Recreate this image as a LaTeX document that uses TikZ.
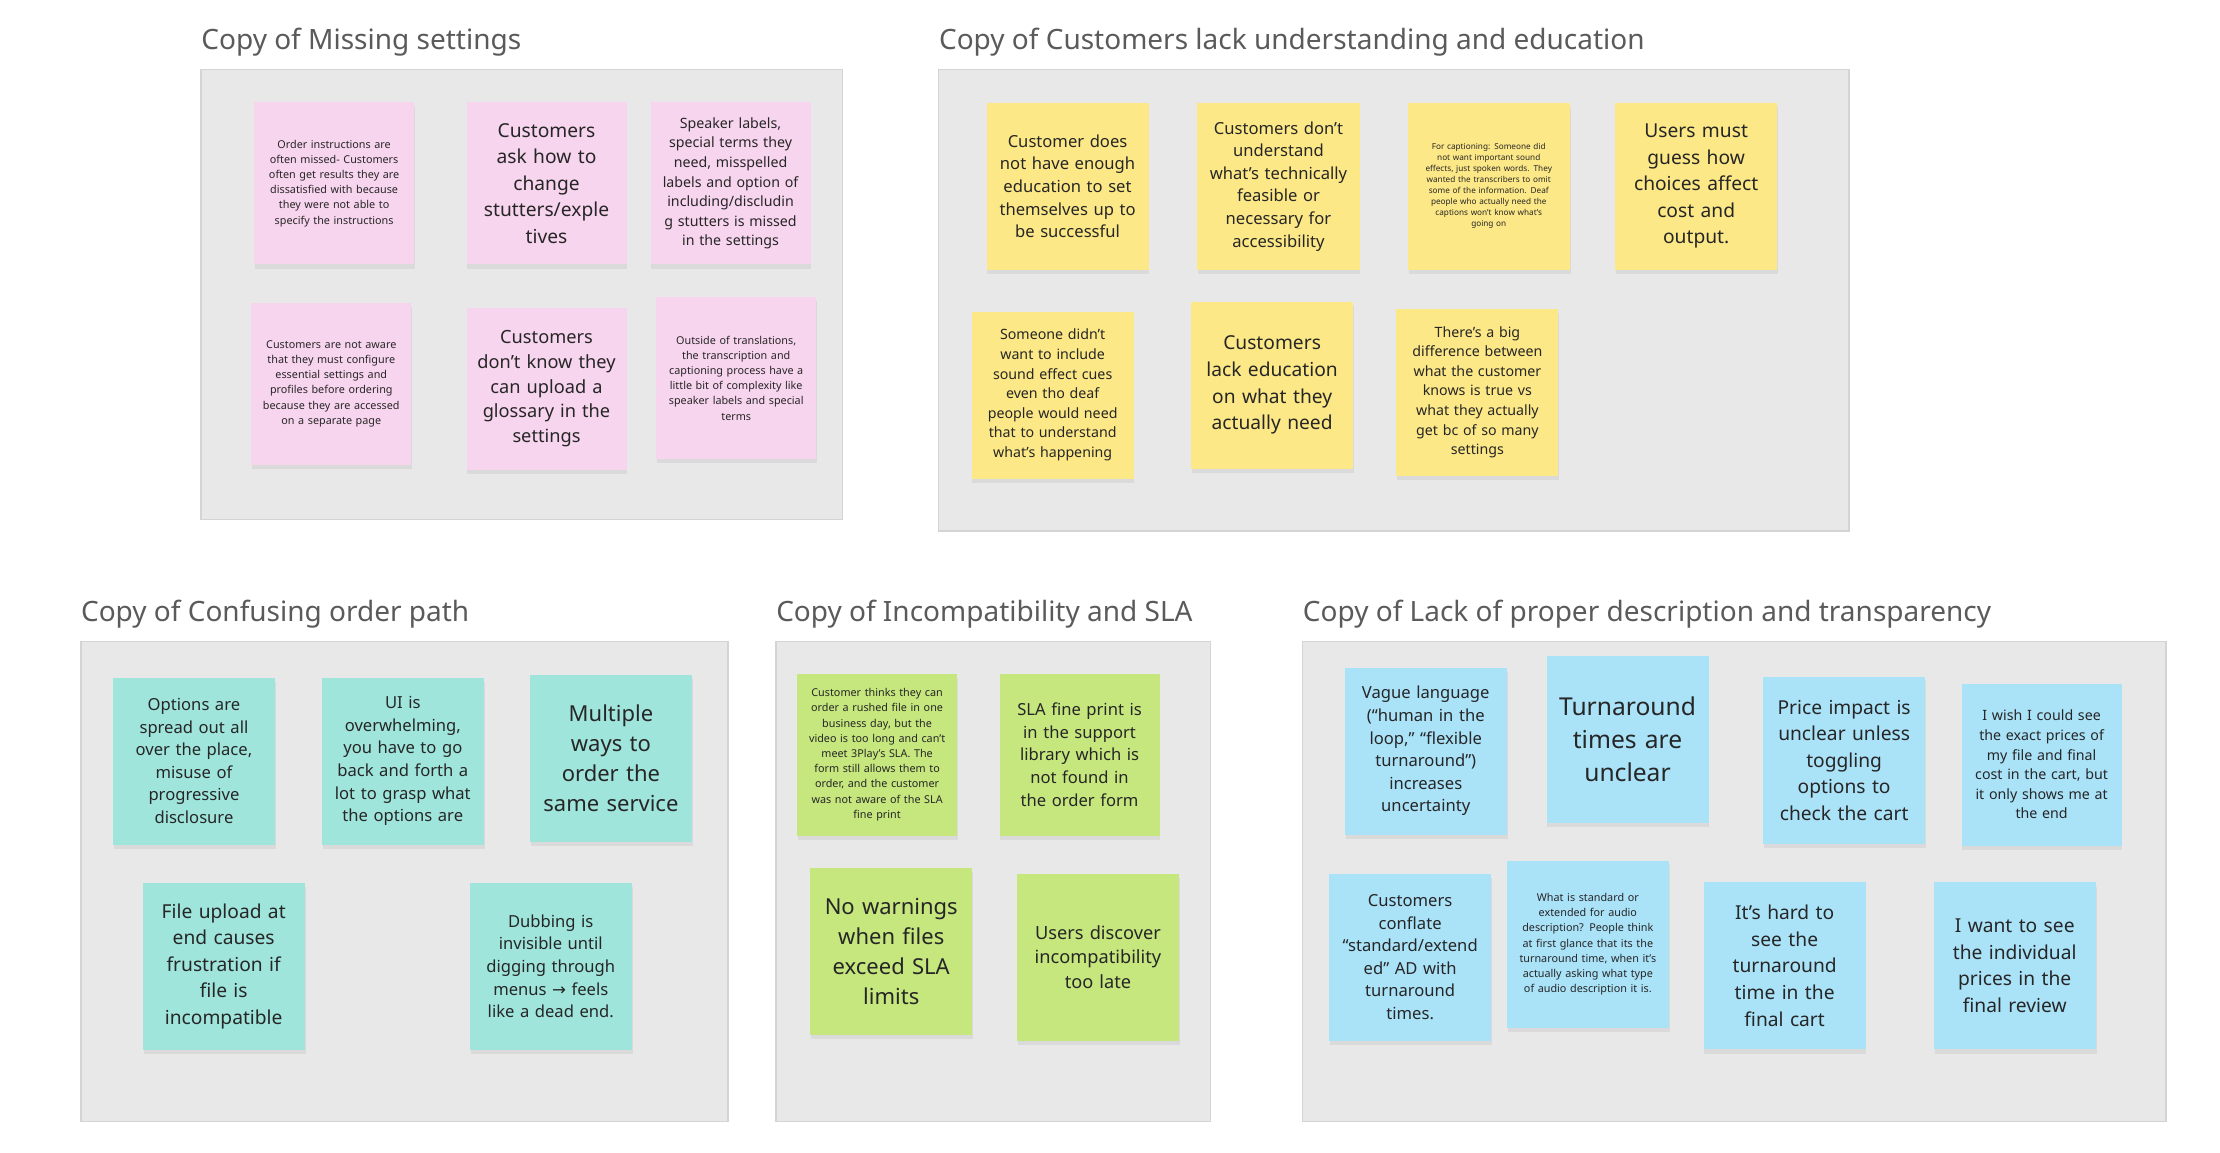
\documentclass[tikz,border=0pt]{standalone}
\usepackage{fontspec}
\setmainfont{Noto Sans}
\newfontfamily\arrowfont{DejaVu Sans}
\usetikzlibrary{shadows}
\definecolor{pinknote}{HTML}{F8D5EE}
\definecolor{yellownote}{HTML}{FCE886}
\definecolor{limenote}{HTML}{C6E67E}
\definecolor{tealnote}{HTML}{9FE5DB}
\definecolor{bluenote}{HTML}{AAE2F8}
\definecolor{panelfill}{HTML}{E8E8E8}
\definecolor{panelline}{HTML}{D4D4D4}
\definecolor{titlegray}{HTML}{5A5A5A}
\definecolor{notetext}{HTML}{262626}

\newcommand\tinytext{\fontsize{4.1}{5.5}\selectfont}
\newcommand\smalltext{\fontsize{5.4}{7.6}\selectfont}
\newcommand\midsmalltext{\fontsize{7.1}{9.8}\selectfont}
\newcommand\midtext{\fontsize{8.3}{11.3}\selectfont}
\newcommand\bigtext{\fontsize{9.6}{13.3}\selectfont}
\newcommand\hugetext{\fontsize{11}{14.9}\selectfont}
\newcommand\gianttext{\fontsize{12.3}{16.4}\selectfont}

\tikzset{
  panel/.style={draw=panelline, fill=panelfill, line width=0.8pt},
  paneltitle/.style={anchor=west, inner sep=0pt, text=titlegray,
    font=\fontsize{14}{16}\selectfont},
  note/.style={fill=#1, text=notetext, align=center, inner sep=0pt,
    text width=80pt, minimum width=81pt, minimum height=83.5pt,
    drop shadow={shadow xshift=0.4pt, shadow yshift=-2.2pt, opacity=0.13}},
  pinksize/.style={minimum width=78.6pt, minimum height=81pt},
}

\begin{document}
\begin{tikzpicture}[x=0.7079pt, y=-0.7079pt]
  \useasboundingbox (0,0) rectangle (1568,813.7);

  % panels and their titles
  \path[panel] (142,49) rectangle (595,367);
  \path[panel] (663,49) rectangle (1306,375);
  \path[panel] (57,453) rectangle (514,792);
  \path[panel] (548,453) rectangle (855,792);
  \path[panel] (920,453) rectangle (1530,792);

  \path
  (142,30) node[paneltitle] (tsettings) {Copy of Missing settings}
  (663,30) node[paneltitle] (teducation) {Copy of Customers lack understanding and education}
  (57,434) node[paneltitle] (tpath) {Copy of Confusing order path}
  (548,434) node[paneltitle] (tsla) {Copy of Incompatibility and SLA}
  (920,434) node[paneltitle] (tclarity) {Copy of Lack of proper description and transparency}
  ;

  % missing settings
  \path
  (236,129.5) node[note=pinknote, pinksize, font=\smalltext] (settings1)
    {Order instructions are\\often missed- Customers\\often get results they are\\dissatisfied with because\\they were not able to\\specify the instructions}
  (386,129.5) node[note=pinknote, pinksize, font=\bigtext] (settings2)
    {Customers\\ask how to\\change\\stutters/exple\\tives}
  (516,129.5) node[note=pinknote, pinksize, font=\midsmalltext] (settings3)
    {Speaker labels,\\special terms they\\need, misspelled\\labels and option of\\including/discludin\\g stutters is missed\\in the settings}
  (234,271) node[note=pinknote, pinksize, font=\smalltext] (settings4)
    {Customers are not aware\\that they must configure\\essential settings and\\profiles before ordering\\because they are accessed\\on a separate page}
  (386,274.5) node[note=pinknote, pinksize, font=\fontsize{9.1}{12.3}\selectfont] (settings5)
    {Customers\\don't know they\\can upload a\\glossary in the\\settings}
  (520,267) node[note=pinknote, pinksize, font=\smalltext] (settings6)
    {Outside of translations,\\the transcription and\\captioning process have a\\little bit of complexity like\\speaker labels and special\\terms}
  ;

  % customers lack understanding
  \path
  (754,131.5) node[note=yellownote, font=\midtext] (edu1)
    {Customer does\\not have enough\\education to set\\themselves up to\\be successful}
  (903,131.5) node[note=yellownote, font=\midtext] (edu2)
    {Customers don't\\understand\\what's technically\\feasible or\\necessary for\\accessibility}
  (1051.5,131.5) node[note=yellownote, font=\tinytext] (edu3)
    {For captioning: Someone did\\not want important sound\\effects, just spoken words. They\\wanted the transcribers to omit\\some of the information. Deaf\\people who actually need the\\captions won't know what's\\going on}
  (1198,131.5) node[note=yellownote, font=\bigtext] (edu4)
    {Users must\\guess how\\choices affect\\cost and\\output.}
  (743.5,279) node[note=yellownote, font=\midsmalltext] (edu5)
    {Someone didn't\\want to include\\sound effect cues\\even tho deaf\\people would need\\that to understand\\what's happening}
  (898.5,272) node[note=yellownote, font=\bigtext] (edu6)
    {Customers\\lack education\\on what they\\actually need}
  (1043.5,277) node[note=yellownote, font=\midsmalltext] (edu7)
    {There's a big\\difference between\\what the customer\\knows is true vs\\what they actually\\get bc of so many\\settings}
  ;

  % confusing order path
  \path
  (137,537.5) node[note=tealnote, font=\midtext] (path1)
    {Options are\\spread out all\\over the place,\\misuse of\\progressive\\disclosure}
  (284.5,537.5) node[note=tealnote, font=\midtext] (path2)
    {UI is\\overwhelming,\\you have to go\\back and forth a\\lot to grasp what\\the options are}
  (431.5,535.5) node[note=tealnote, font=\hugetext] (path3)
    {Multiple\\ways to\\order the\\same service}
  (158,682.5) node[note=tealnote, font=\bigtext] (path4)
    {File upload at\\end causes\\frustration if\\file is\\incompatible}
  (389,682.5) node[note=tealnote, font=\midtext] (path5)
    {Dubbing is\\invisible until\\digging through\\menus {\arrowfont →} feels\\like a dead end.}
  ;

  % incompatibility and sla
  \path
  (619.5,533) node[note=limenote, pinksize, font=\smalltext] (sla1)
    {Customer thinks they can\\order a rushed file in one\\business day, but the\\video is too long and can't\\meet 3Play's SLA. The\\form still allows them to\\order, and the customer\\was not aware of the SLA\\fine print}
  (762.5,533) node[note=limenote, pinksize, font=\midtext] (sla2)
    {SLA fine print is\\in the support\\library which is\\not found in\\the order form}
  (629.5,672) node[note=limenote, font=\hugetext] (sla3)
    {No warnings\\when files\\exceed SLA\\limits}
  (775.5,676) node[note=limenote, font=\fontsize{9.1}{12.4}\selectfont] (sla4)
    {Users discover\\incompatibility\\too late}
  ;

  % lack of proper description
  \path
  (1007,530.5) node[note=bluenote, font=\midtext] (desc1)
    {Vague language\\(“human in the\\loop,” “flexible\\turnaround”)\\increases\\uncertainty}
  (1149.5,522) node[note=bluenote, font=\gianttext] (desc2)
    {Turnaround\\times are\\unclear}
  (1302.5,537) node[note=bluenote, font=\bigtext] (desc3)
    {Price impact is\\unclear unless\\toggling\\options to\\check the cart}
  (1442,540) node[note=bluenote, pinksize, font=\midsmalltext] (desc4)
    {I wish I could see\\the exact prices of\\my file and final\\cost in the cart, but\\it only shows me at\\the end}
  (996,676) node[note=bluenote, font=\midtext] (desc5)
    {Customers\\conflate\\“standard/extend\\ed” AD with\\turnaround\\times.}
  (1121.5,667) node[note=bluenote, font=\smalltext] (desc6)
    {What is standard or\\extended for audio\\description? People think\\at first glance that its the\\turnaround time, when it's\\actually asking what type\\of audio description it is.}
  (1260.5,682) node[note=bluenote, font=\bigtext] (desc7)
    {It's hard to\\see the\\turnaround\\time in the\\final cart}
  (1423,682) node[note=bluenote, font=\bigtext] (desc8)
    {I want to see\\the individual\\prices in the\\final review}
  ;
\end{tikzpicture}
\end{document}
